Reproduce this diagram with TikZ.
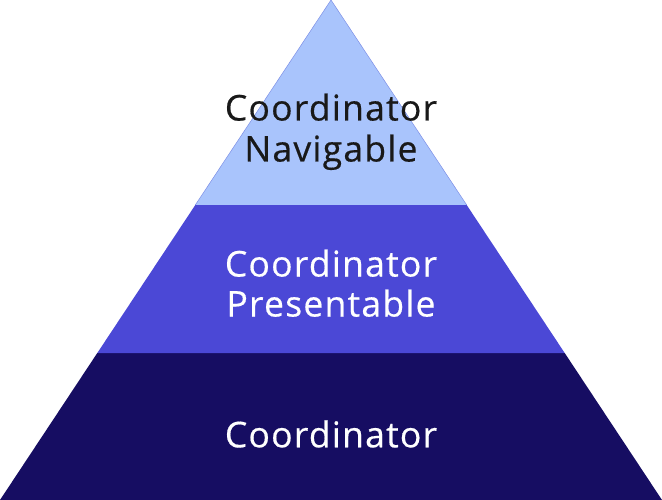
\documentclass[tikz,border=0pt]{standalone}
\usepackage{fontspec}
\setmainfont{Open Sans}[LetterSpace=3.5, FakeBold=0.45]
\definecolor{topc}{HTML}{A9C4FC}
\definecolor{midc}{HTML}{4B48D6}
\definecolor{botc}{HTML}{160D62}
\definecolor{edgec}{HTML}{7D8FE6}
\begin{document}
\begin{tikzpicture}[x=1pt,y=-1pt,
  lbl/.style={font=\fontsize{35.5}{39}\selectfont, anchor=base, inner sep=0pt}]
\useasboundingbox (0,0) rectangle (662,500);
\coordinate (apex) at (331,0);
\coordinate (l1) at (195.3,205);
\coordinate (r1) at (466.7,205);
\coordinate (l2) at (97.3,353);
\coordinate (r2) at (564.7,353);
\coordinate (bl) at (0,500);
\coordinate (br) at (662,500);
\fill[botc] (l2) -- (r2) -- (br) -- (bl) -- cycle;
\fill[midc] (l1) -- (r1) -- (r2) -- (l2) -- cycle;
\fill[topc] (apex) -- (r1) -- (l1) -- cycle;
\draw[edgec, line width=0.5pt] (l1) -- (apex) -- (r1);
\node[lbl, text=black!90] (nav1) at (331,120.5) {Coordinator};
\node[lbl, text=black!90] (nav2) at (331,161.5) {Navigable};
\node[lbl, text=white] (pres1) at (331,276.5) {Coordinator};
\node[lbl, text=white] (pres2) at (331,316.5) {Presentable};
\node[lbl, text=white] (coord) at (331,447.3) {Coordinator};
\end{tikzpicture}
\end{document}
